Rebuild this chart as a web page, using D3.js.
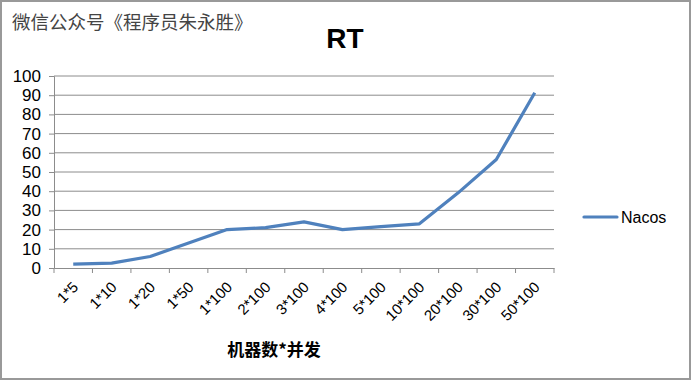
<!DOCTYPE html>
<html>
<head>
<meta charset="utf-8">
<script src="https://cdn.jsdelivr.net/npm/d3@7"></script>
<style>
  body { margin: 0; background: #fff; }
  svg { display: block; }
</style>
</head>
<body>
<div id="chart"></div>
<script>
const categories = ["1*5", "1*10", "1*20", "1*50", "1*100", "2*100", "3*100", "4*100", "5*100", "10*100", "20*100", "30*100", "50*100"];
const nacos = [2, 2.5, 6, 13, 20, 21, 24, 20, 21.5, 23, 39, 56.5, 91.3];
const yTicks = [0, 10, 20, 30, 40, 50, 60, 70, 80, 90, 100];

const width = 691, height = 380;
const margin = {left: 54, right: 137, top: 76, bottom: 112};

const svg = d3.select("#chart").append("svg")
    .attr("width", width)
    .attr("height", height)
    .attr("font-family", "Arial, 'Liberation Sans', sans-serif");

svg.append("rect")
    .attr("x", 1).attr("y", 1)
    .attr("width", width - 2).attr("height", height - 2)
    .attr("fill", "#fff")
    .attr("stroke", "#999")
    .attr("stroke-width", 2);

let x = d3.scaleBand()
    .domain(categories)
    .range([margin.left, width - margin.right]);

let y = d3.scaleLinear()
    .domain([0, 100])
    .range([height - margin.bottom, margin.top]);

// gridlines
svg.append("g")
    .selectAll("line")
    .data(yTicks.slice(1))
    .join("line")
      .attr("x1", margin.left)
      .attr("x2", width - margin.right)
      .attr("y1", d => y(d))
      .attr("y2", d => y(d))
      .attr("stroke", "#8c8c8c")
      .attr("stroke-width", 1);

// y axis
const yAxis = svg.append("g")
    .attr("transform", `translate(${margin.left},0)`)
    .call(d3.axisLeft(y).tickValues(yTicks).tickSize(5).tickPadding(8));
yAxis.select(".domain").attr("stroke", "#8c8c8c");
yAxis.selectAll(".tick line").attr("stroke", "#8c8c8c");
yAxis.selectAll(".tick text")
    .attr("font-size", 17)
    .attr("fill", "#000");

// x axis
const xAxis = svg.append("g")
    .attr("transform", `translate(0,${y(0)})`)
    .call(d3.axisBottom(x).tickSize(0).tickSizeOuter(0));
xAxis.select(".domain").attr("stroke", "#8c8c8c");
xAxis.selectAll(".tick line").remove();
xAxis.selectAll(".tick text")
    .attr("font-size", 15)
    .attr("fill", "#000")
    .attr("text-anchor", "end")
    .attr("dy", null)
    .attr("y", 0)
    .attr("transform", "translate(6,20) rotate(-45)");

// boundary ticks between categories
const bounds = categories.map(c => x(c)).concat([x(categories[categories.length - 1]) + x.bandwidth()]);
svg.append("g")
    .selectAll("line")
    .data(bounds)
    .join("line")
      .attr("x1", d => d).attr("x2", d => d)
      .attr("y1", y(0)).attr("y2", y(0) + 5)
      .attr("stroke", "#8c8c8c");

// line
const line = d3.line()
    .x((d, i) => x(categories[i]) + x.bandwidth() / 2)
    .y(d => y(d));

svg.append("path")
    .datum(nacos)
    .attr("fill", "none")
    .attr("stroke", "#4f81bd")
    .attr("stroke-width", 3.2)
    .attr("stroke-linejoin", "round")
    .attr("d", line);

// title
svg.append("text")
    .attr("x", 345)
    .attr("y", 48)
    .attr("text-anchor", "middle")
    .attr("font-size", 28)
    .attr("font-weight", "bold")
    .text("RT");

// watermark
svg.append("text")
    .attr("x", 12)
    .attr("y", 29)
    .attr("font-family", "'Noto Sans CJK SC', sans-serif")
    .attr("font-size", 18.5)
    .attr("fill", "#444")
    .text("微信公众号《程序员朱永胜》");

// x axis title
svg.append("text")
    .attr("x", 274)
    .attr("y", 356)
    .attr("text-anchor", "middle")
    .attr("font-family", "'Noto Sans CJK SC', sans-serif")
    .attr("font-size", 17)
    .attr("font-weight", "bold")
    .text("机器数*并发");

// legend
const legend = svg.append("g").attr("transform", "translate(584,217)");
legend.append("line")
    .attr("x1", 0).attr("x2", 33)
    .attr("stroke", "#4f81bd")
    .attr("stroke-width", 3.2)
    .attr("stroke-linecap", "round");
legend.append("text")
    .attr("x", 37)
    .attr("dy", "0.35em")
    .attr("font-size", 16)
    .text("Nacos");
</script>
</body>
</html>
